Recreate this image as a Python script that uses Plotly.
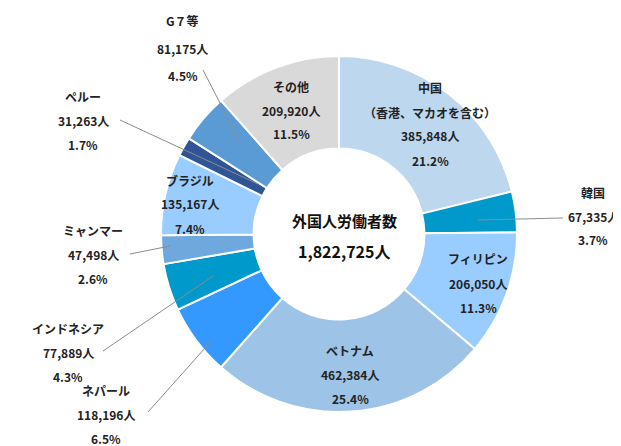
import plotly.graph_objects as go

# 国籍別 外国人労働者数
countries = ["中国", "韓国", "フィリピン", "ベトナム", "ネパール", "インドネシア",
             "ミャンマー", "ブラジル", "ペルー", "G７等", "その他"]
workers = [385848, 67335, 206050, 462384, 118196, 77889, 47498, 135167, 31263, 81175, 209920]
shares = ["21.2%", "3.7%", "11.3%", "25.4%", "6.5%", "4.3%", "2.6%", "7.4%", "1.7%", "4.5%", "11.5%"]
colors = ["#BDD7EE", "#0099CC", "#99CCFF", "#9DC3E6", "#3399FF", "#0099CC",
          "#6FA8DC", "#99CCFF", "#2F5597", "#5B9BD5", "#D9D9D9"]
total = "1,822,725人"

W, H = 621, 446
FONT = "Noto Sans CJK JP"
CX, CY, R = 331, 226, 178

fig = go.Figure(go.Pie(
    labels=countries, values=workers, sort=False, direction="clockwise",
    hole=0.48, textinfo="none", marker=dict(colors=colors, line=dict(color="white", width=2)),
    domain=dict(x=[(CX - R) / W, (CX + R) / W], y=[1 - (CY + R) / H, 1 - (CY - R) / H]),
    showlegend=False,
))


def label(lines, x, y0, step=24, size=12):
    for i, t in enumerate(lines):
        fig.add_annotation(x=x / W, y=1 - (y0 + i * step) / H, xref="paper", yref="paper",
                           xanchor="center", yanchor="middle",
                           text="<b>" + t + "</b>", showarrow=False,
                           font=dict(size=size, color="#222222", family=FONT))


def num(i):
    return "{:,}人".format(workers[i])


# label positions in pixels (x center, first line y)
pos = {
    0: (422, 80), 1: (585, 184), 2: (470, 251), 3: (342, 342), 4: (98, 382),
    5: (60, 320), 6: (85, 222), 7: (182, 172), 8: (75, 88), 9: (175, 13), 10: (283, 78),
}
for i, (x, y) in pos.items():
    if i == 0:
        label(["中国", "（香港、マカオを含む）", num(0), shares[0]], x, y, 24)
    elif i == 9:
        label([countries[i], num(i), shares[i]], x, y, 27)
    else:
        label([countries[i], num(i), shares[i]], x, y)

fig.add_annotation(x=336 / W, y=1 - 213 / H, xref="paper", yref="paper", showarrow=False,
                   xanchor="center", yanchor="middle",
                   text="<b>外国人労働者数</b>", font=dict(size=15, color="#111111", family=FONT))
fig.add_annotation(x=336 / W, y=1 - 243 / H, xref="paper", yref="paper", showarrow=False,
                   xanchor="center", yanchor="middle",
                   text="<b>" + total + "</b>", font=dict(size=16, color="#111111", family=FONT))

leaders = [(470, 212, 555, 210), (140, 404, 206, 330), (95, 343, 205, 268),
           (122, 246, 162, 238), (112, 112, 250, 176), (195, 62, 232, 134)]
for x0, y0, x1, y1 in leaders:
    fig.add_shape(type="line", xref="paper", yref="paper", x0=x0 / W, y0=1 - y0 / H,
                  x1=x1 / W, y1=1 - y1 / H, line=dict(color="#8C8C8C", width=1))

fig.update_layout(width=W, height=H, margin=dict(l=0, r=0, t=0, b=0),
                  paper_bgcolor="white", font=dict(family=FONT))
fig.write_html("out.html")
